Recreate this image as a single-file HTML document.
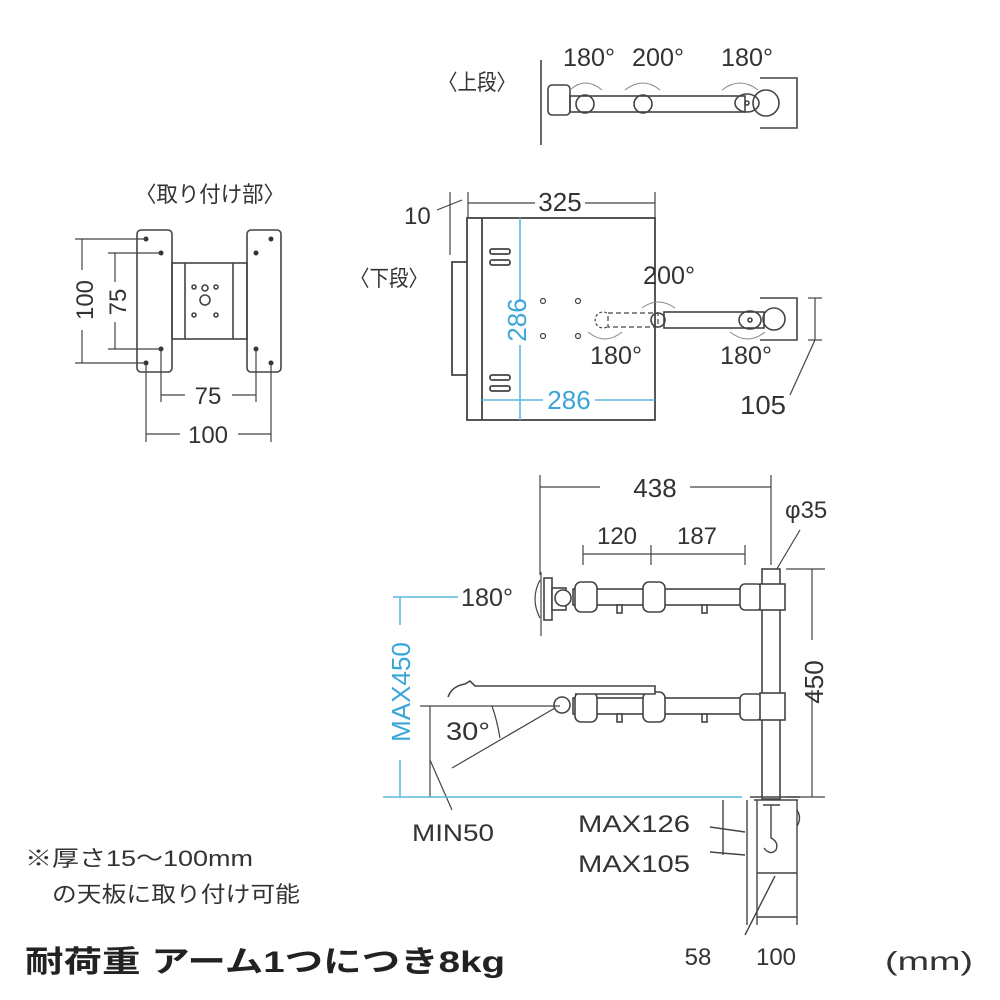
<!DOCTYPE html>
<html><head><meta charset="utf-8"><style>
html,body{margin:0;padding:0;background:#fff}
svg{display:block}
text{font-family:"Liberation Sans","Noto Sans CJK JP",sans-serif;fill:#333}
</style></head><body>
<svg width="1000" height="1000" viewBox="0 0 1000 1000" xmlns="http://www.w3.org/2000/svg">
<g fill="none" stroke="#444" stroke-width="1.6">
<!-- ===== 取り付け部 ===== -->
<rect x="137" y="230" width="35" height="142" rx="4"/>
<rect x="247" y="230" width="34" height="142" rx="4"/>
<rect x="172" y="263" width="75" height="76"/>
<line x1="185" y1="263" x2="185" y2="339"/><line x1="233" y1="263" x2="233" y2="339"/>
<circle cx="205" cy="288" r="3"/><circle cx="205" cy="300" r="5"/>
<circle cx="194" cy="287" r="2"/><circle cx="216" cy="287" r="2"/><circle cx="194" cy="315" r="2"/><circle cx="216" cy="315" r="2"/>
</g>
<g fill="#333">
<circle cx="146" cy="239" r="2.5"/><circle cx="146" cy="363" r="2.5"/><circle cx="161" cy="253" r="2.5"/><circle cx="161" cy="349" r="2.5"/>
<circle cx="271" cy="239" r="2.5"/><circle cx="271" cy="363" r="2.5"/><circle cx="256" cy="253" r="2.5"/><circle cx="256" cy="349" r="2.5"/>
</g>
<g stroke="#444" stroke-width="1.2" fill="none">
<line x1="75" y1="239" x2="146" y2="239"/><line x1="75" y1="363" x2="146" y2="363"/>
<line x1="82" y1="239" x2="82" y2="270"/><line x1="82" y1="330" x2="82" y2="363"/>
<line x1="108" y1="253" x2="161" y2="253"/><line x1="108" y1="349" x2="161" y2="349"/>
<line x1="115" y1="253" x2="115" y2="282"/><line x1="115" y1="322" x2="115" y2="349"/>
<line x1="161" y1="349" x2="161" y2="402"/><line x1="256" y1="349" x2="256" y2="402"/>
<line x1="161" y1="395" x2="185" y2="395"/><line x1="232" y1="395" x2="256" y2="395"/>
<line x1="146" y1="363" x2="146" y2="442"/><line x1="271" y1="363" x2="271" y2="442"/>
<line x1="146" y1="434" x2="180" y2="434"/><line x1="238" y1="434" x2="271" y2="434"/>
</g>
<text x="135" y="202" font-size="22" textLength="150" lengthAdjust="spacingAndGlyphs">〈取り付け部〉</text>
<text transform="translate(93,300) rotate(-90)" font-size="24" text-anchor="middle">100</text>
<text transform="translate(126,302) rotate(-90)" font-size="24" text-anchor="middle">75</text>
<text x="208" y="404" font-size="24" text-anchor="middle">75</text>
<text x="208" y="443" font-size="24" text-anchor="middle">100</text>

<!-- ===== 上段 ===== -->
<text x="438" y="90" font-size="22" textLength="78" lengthAdjust="spacingAndGlyphs">〈上段〉</text>
<g fill="none" stroke="#444" stroke-width="1.6">
<path d="M541 60 V145"/>
<rect x="548" y="85" width="22" height="30" rx="4"/>
<rect x="570" y="96" width="175" height="16"/>
<circle cx="585" cy="104" r="9"/><circle cx="643" cy="104" r="9"/>
<path d="M760 78 H797 V128 H760"/>
<circle cx="766" cy="103" r="13"/><ellipse cx="747" cy="103" rx="12" ry="9"/><circle cx="747" cy="103" r="2"/>
</g>
<g fill="none" stroke="#888" stroke-width="1">
<path d="M570 90 Q585 76 602 90"/><path d="M625 90 Q643 76 660 90"/><path d="M722 90 Q740 76 758 90"/>
</g>
<text x="563" y="66" font-size="25" textLength="52" lengthAdjust="spacingAndGlyphs">180°</text>
<text x="632" y="66" font-size="25" textLength="52" lengthAdjust="spacingAndGlyphs">200°</text>
<text x="721" y="66" font-size="25" textLength="52" lengthAdjust="spacingAndGlyphs">180°</text>

<!-- ===== 下段 ===== -->
<text x="350" y="286" font-size="22" textLength="78" lengthAdjust="spacingAndGlyphs">〈下段〉</text>
<g stroke="#444" stroke-width="1.2" fill="none">
<line x1="450" y1="192" x2="450" y2="255"/><line x1="468" y1="192" x2="468" y2="218"/>
<line x1="655" y1="192" x2="655" y2="218"/>
<line x1="468" y1="203" x2="535" y2="203"/><line x1="585" y1="203" x2="655" y2="203"/>
<line x1="437" y1="210" x2="462" y2="200"/>
</g>
<text x="404" y="224" font-size="24">10</text>
<text x="560" y="211" font-size="26" text-anchor="middle">325</text>
<g fill="none" stroke="#444" stroke-width="1.8">
<rect x="467" y="218" width="188" height="202"/>
<line x1="482" y1="218" x2="482" y2="420"/>
<path d="M467 262 H452 V375 H467"/>
<rect x="490" y="249" width="20" height="5" rx="2"/><rect x="490" y="260" width="20" height="5" rx="2"/>
<rect x="490" y="375" width="20" height="5" rx="2"/><rect x="490" y="386" width="20" height="5" rx="2"/>
</g>
<g fill="none" stroke="#444" stroke-width="1.2">
<circle cx="543" cy="301" r="2.5"/><circle cx="578" cy="301" r="2.5"/><circle cx="543" cy="336" r="2.5"/><circle cx="578" cy="336" r="2.5"/>
<path d="M607 313 a8 8 0 1 0 0 14" stroke-dasharray="3 2"/>
<rect x="608" y="313" width="50" height="14" stroke-dasharray="5 3"/>
</g>
<g stroke="#5bb8e0" stroke-width="1.6" fill="none">
<line x1="520" y1="218" x2="520" y2="300"/><line x1="520" y1="345" x2="520" y2="420"/>
<line x1="482" y1="400" x2="543" y2="400"/><line x1="595" y1="400" x2="655" y2="400"/>
</g>
<text transform="translate(526,320) rotate(-90)" font-size="26" fill="#3aa6d8" style="fill:#3aa6d8" text-anchor="middle">286</text>
<text x="569" y="409" font-size="26" style="fill:#3aa6d8" text-anchor="middle">286</text>
<g fill="none" stroke="#444" stroke-width="1.6">
<circle cx="658" cy="320" r="7"/>
<rect x="664" y="312" width="100" height="16"/>
<path d="M760 298 H797 V340 H760"/>
<circle cx="774" cy="319" r="11"/><ellipse cx="750" cy="320" rx="11" ry="9"/><circle cx="750" cy="320" r="2"/>
</g>
<g fill="none" stroke="#888" stroke-width="1">
<path d="M642 308 Q658 296 675 308"/><path d="M588 332 Q605 346 622 332"/><path d="M730 332 Q748 346 765 332"/>
</g>
<g stroke="#444" stroke-width="1.2"><line x1="808" y1="298" x2="822" y2="298"/><line x1="808" y1="340" x2="822" y2="340"/><line x1="815" y1="298" x2="815" y2="340"/><line x1="815" y1="340" x2="790" y2="395"/></g>
<text x="643" y="284" font-size="25" textLength="52" lengthAdjust="spacingAndGlyphs">200°</text>
<text x="590" y="364" font-size="25" textLength="52" lengthAdjust="spacingAndGlyphs">180°</text>
<text x="720" y="364" font-size="25" textLength="52" lengthAdjust="spacingAndGlyphs">180°</text>
<text x="740" y="414" font-size="26" textLength="46" lengthAdjust="spacingAndGlyphs">105</text>

<!-- ===== side view ===== -->
<g stroke="#444" stroke-width="1.2" fill="none">
<line x1="540" y1="475" x2="540" y2="575"/><line x1="771" y1="475" x2="771" y2="565"/>
<line x1="540" y1="487" x2="600" y2="487"/><line x1="690" y1="487" x2="771" y2="487"/>
<line x1="583" y1="545" x2="583" y2="565"/><line x1="651" y1="545" x2="651" y2="565"/><line x1="745" y1="545" x2="745" y2="565"/>
<line x1="583" y1="554" x2="745" y2="554"/>
<line x1="775" y1="572" x2="800" y2="530"/>
<line x1="786" y1="569" x2="825" y2="569"/><line x1="786" y1="797" x2="825" y2="797"/>
<line x1="812" y1="569" x2="812" y2="640"/><line x1="812" y1="690" x2="812" y2="797"/>
</g>
<text x="655" y="497" font-size="26" text-anchor="middle">438</text>
<text x="617" y="544" font-size="24" text-anchor="middle">120</text>
<text x="697" y="544" font-size="24" text-anchor="middle">187</text>
<text x="785" y="518" font-size="24">φ35</text>
<text transform="translate(823,682) rotate(-90)" font-size="26" text-anchor="middle">450</text>
<g fill="#fff" stroke="#444" stroke-width="1.6">
<rect x="762" y="569" width="18" height="230"/>
<rect x="573" y="589" width="190" height="16"/>
<rect x="573" y="698" width="190" height="16"/>
<rect x="575" y="582" width="22" height="30" rx="6"/><rect x="643" y="582" width="22" height="30" rx="6"/><rect x="740" y="584" width="22" height="26" rx="5"/>
<rect x="575" y="692" width="22" height="30" rx="6"/><rect x="643" y="692" width="22" height="30" rx="6"/><rect x="740" y="694" width="22" height="26" rx="5"/>
<rect x="760" y="584" width="25" height="26"/><rect x="760" y="693" width="25" height="27"/>
<rect x="617" y="605" width="5" height="8"/><rect x="702" y="605" width="5" height="8"/>
<rect x="617" y="714" width="5" height="8"/><rect x="702" y="714" width="5" height="8"/>
<rect x="544" y="578" width="8" height="42"/><rect x="552" y="588" width="14" height="22"/><circle cx="563" cy="598" r="8"/>
<path d="M448 697 Q452 686 465 684 L470 681 L475 686 L655 686 L655 694 L575 694"/>
<circle cx="562" cy="705" r="8"/>
</g>
<g stroke="#444" stroke-width="1.2" fill="none">
<line x1="541" y1="572" x2="541" y2="636"/>
<path d="M540 580 Q530 599 540 618"/>
<line x1="420" y1="706" x2="560" y2="706"/>
<line x1="430" y1="706" x2="430" y2="797"/>
<line x1="555" y1="708" x2="452" y2="768"/>
<path d="M492 706 Q497 720 500 738"/>
<line x1="430" y1="760" x2="452" y2="810"/>
</g>
<g stroke="#5bb8e0" stroke-width="1.6" fill="none">
<line x1="383" y1="797" x2="742" y2="797"/>
<line x1="400" y1="597" x2="400" y2="625"/><line x1="400" y1="760" x2="400" y2="797"/>
<line x1="393" y1="597" x2="458" y2="597"/>
</g>
<text transform="translate(410,692) rotate(-90)" font-size="26" style="fill:#3aa6d8" text-anchor="middle">MAX450</text>
<text x="461" y="606" font-size="25" textLength="52" lengthAdjust="spacingAndGlyphs">180°</text>
<text x="446" y="740" font-size="25" textLength="44" lengthAdjust="spacingAndGlyphs">30°</text>
<text x="412" y="841" font-size="24" textLength="82" lengthAdjust="spacingAndGlyphs">MIN50</text>
<!-- clamp -->
<g stroke="#444" stroke-width="1.4" fill="none">
<line x1="750" y1="797" x2="800" y2="797"/>
<line x1="754" y1="800" x2="798" y2="800"/>
<path d="M797 800 V845"/><path d="M797 810 Q802 818 797 826"/>
<path d="M763 805 H780 M771 805 V838 Q779 842 776 850 Q770 856 764 848"/>
<line x1="747" y1="800" x2="747" y2="925"/><line x1="757" y1="800" x2="757" y2="925"/><line x1="797" y1="845" x2="797" y2="925"/>
<line x1="723" y1="800" x2="723" y2="855"/>
<line x1="710" y1="827" x2="745" y2="832"/><line x1="710" y1="852" x2="745" y2="855"/>
<line x1="757" y1="873" x2="797" y2="873"/><line x1="757" y1="917" x2="797" y2="917"/>
<line x1="775" y1="876" x2="745" y2="935"/>
</g>
<text x="578" y="832" font-size="24" textLength="112" lengthAdjust="spacingAndGlyphs">MAX126</text>
<text x="578" y="872" font-size="24" textLength="112" lengthAdjust="spacingAndGlyphs">MAX105</text>
<text x="698" y="965" font-size="24" text-anchor="middle">58</text>
<text x="776" y="965" font-size="24" text-anchor="middle">100</text>
<text x="885" y="970" font-size="26" textLength="88" lengthAdjust="spacingAndGlyphs">(mm)</text>
<!-- notes -->
<text x="25" y="866" font-size="22" textLength="228" lengthAdjust="spacingAndGlyphs">※厚さ15〜100mm</text>
<text x="52" y="902" font-size="22" textLength="248" lengthAdjust="spacingAndGlyphs">の天板に取り付け可能</text>
<text x="25" y="972" font-size="30" font-weight="bold" style="fill:#222" textLength="480" lengthAdjust="spacingAndGlyphs">耐荷重 アーム1つにつき8kg</text>
</svg>
</body></html>
